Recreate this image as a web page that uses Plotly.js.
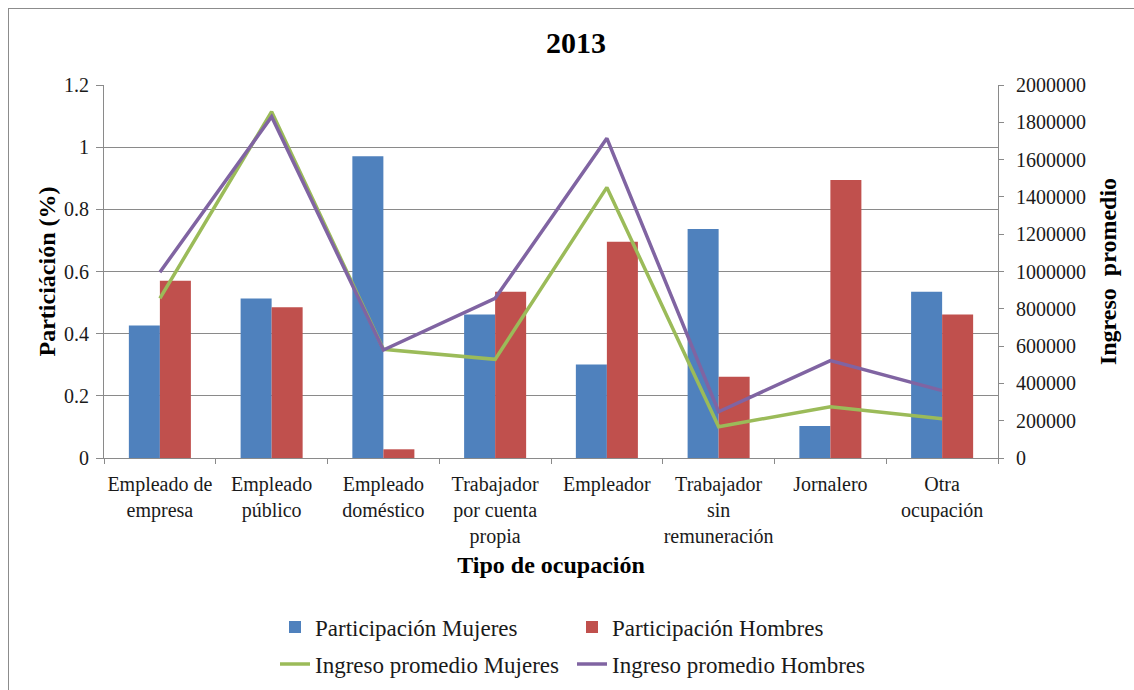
<!DOCTYPE html>
<html>
<head>
<meta charset="utf-8">
<script src="https://cdn.plot.ly/plotly-3.0.1.min.js"></script>
<style>
  html, body { margin: 0; padding: 0; background: #fff; }
  #wrap { position: relative; width: 1134px; height: 690px; overflow: hidden; }
  #chart { position: absolute; left: 0; top: 0; width: 1134px; height: 690px; }
  #frame { position: absolute; left: 8px; top: 8px; width: 1140px; height: 700px;
           border-left: 1px solid #8c8c8c; border-top: 1px solid #8c8c8c; pointer-events: none; }
</style>
</head>
<body>
<div id="wrap">
  <div id="chart"></div>
  <div id="frame"></div>
</div>
<script>
// Occupation categories (tick labels, with manual line breaks)
const categorias = [
  'Empleado de<br>empresa',
  'Empleado<br>público',
  'Empleado<br>doméstico',
  'Trabajador<br>por cuenta<br>propia',
  'Empleador',
  'Trabajador<br>sin<br>remuneración',
  'Jornalero',
  'Otra<br>ocupación'
];

// Participation share (left axis)
const participacionMujeres = [0.426, 0.513, 0.971, 0.462, 0.301, 0.737, 0.103, 0.535];
const participacionHombres = [0.570, 0.485, 0.028, 0.535, 0.696, 0.261, 0.894, 0.462];

// Average income (right axis)
const ingresoMujeres = [856000, 1857000, 583000, 529000, 1451000, 168000, 275000, 211000];
const ingresoHombres = [996000, 1830000, 579000, 856000, 1714000, 248000, 522000, 361000];

const serif = '"Liberation Serif", "Times New Roman", serif';
const textColor = '#1a1a1a';
const axisGray = '#8a8a8a';

const traces = [
  {
    type: 'bar', name: 'Participación Mujeres', x: categorias, y: participacionMujeres,
    marker: { color: '#4F81BD' }, legend: 'legend'
  },
  {
    type: 'bar', name: 'Participación Hombres', x: categorias, y: participacionHombres,
    marker: { color: '#C0504D' }, legend: 'legend'
  },
  {
    type: 'scatter', mode: 'lines', name: 'Ingreso promedio Mujeres', x: categorias, y: ingresoMujeres,
    yaxis: 'y2', line: { color: '#9BBB59', width: 3.5 }, legend: 'legend2'
  },
  {
    type: 'scatter', mode: 'lines', name: 'Ingreso promedio Hombres', x: categorias, y: ingresoHombres,
    yaxis: 'y2', line: { color: '#8064A2', width: 3.5 }, legend: 'legend2'
  }
];

const legendCommon = {
  orientation: 'h', xref: 'paper', yref: 'paper', xanchor: 'left', yanchor: 'middle',
  entrywidth: 252, entrywidthmode: 'pixels', bgcolor: 'rgba(0,0,0,0)',
  font: { family: serif, size: 23, color: textColor }, itemwidth: 30
};

const layout = {
  width: 1134, height: 690,
  paper_bgcolor: '#ffffff', plot_bgcolor: '#ffffff',
  margin: { l: 104, r: 136, t: 85, b: 232, autoexpand: false },
  font: { family: serif, color: textColor },
  title: {
    text: '<b>2013</b>', font: { family: serif, size: 30, color: '#000' },
    x: 576 / 1134, xanchor: 'center', xref: 'container',
    y: 1 - 42 / 690, yanchor: 'middle', yref: 'container'
  },
  barmode: 'group', bargap: 0.445, bargroupgap: 0,
  xaxis: {
    type: 'category', showline: true, linecolor: axisGray, linewidth: 1,
    ticks: 'outside', tickson: 'boundaries', ticklen: 5, tickcolor: axisGray,
    tickangle: 0, ticklabelstandoff: 8,
    tickfont: { family: serif, size: 20, color: textColor },
    title: { text: '<b>Tipo de ocupación</b>', font: { family: serif, size: 24, color: '#000' }, standoff: 9 },
    automargin: false
  },
  yaxis: {
    range: [0, 1.2], dtick: 0.2, tick0: 0, showline: true, linecolor: axisGray, linewidth: 1,
    ticks: 'outside', ticklen: 7, tickcolor: axisGray, ticklabelstandoff: 3,
    showgrid: true, gridcolor: axisGray, gridwidth: 1, zeroline: false,
    tickfont: { family: serif, size: 20, color: textColor },
    title: { text: '<b>Particiáción (%)</b>', font: { family: serif, size: 24, color: '#000' }, standoff: 1 },
    automargin: false
  },
  yaxis2: {
    overlaying: 'y', side: 'right', range: [0, 2000000], dtick: 200000, tick0: 0,
    showline: true, linecolor: axisGray, linewidth: 1,
    ticks: 'outside', ticklen: 5, tickcolor: axisGray, ticklabelstandoff: 8,
    showgrid: false, zeroline: false,
    tickformat: 'd',
    tickfont: { family: serif, size: 20, color: textColor },
    title: { text: '<b>Ingreso  promedio</b>', font: { family: serif, size: 24, color: '#000' }, standoff: 14 },
    automargin: false
  },
  legend: Object.assign({}, legendCommon, { x: (275 - 104) / 894, y: (458 - 627) / 373 }),
  legend2: Object.assign({}, legendCommon, { x: (275 - 104) / 894, y: (458 - 664) / 373 }),
  showlegend: true
};

Plotly.newPlot('chart', traces, layout, { displayModeBar: false, staticPlot: true });
</script>
</body>
</html>
